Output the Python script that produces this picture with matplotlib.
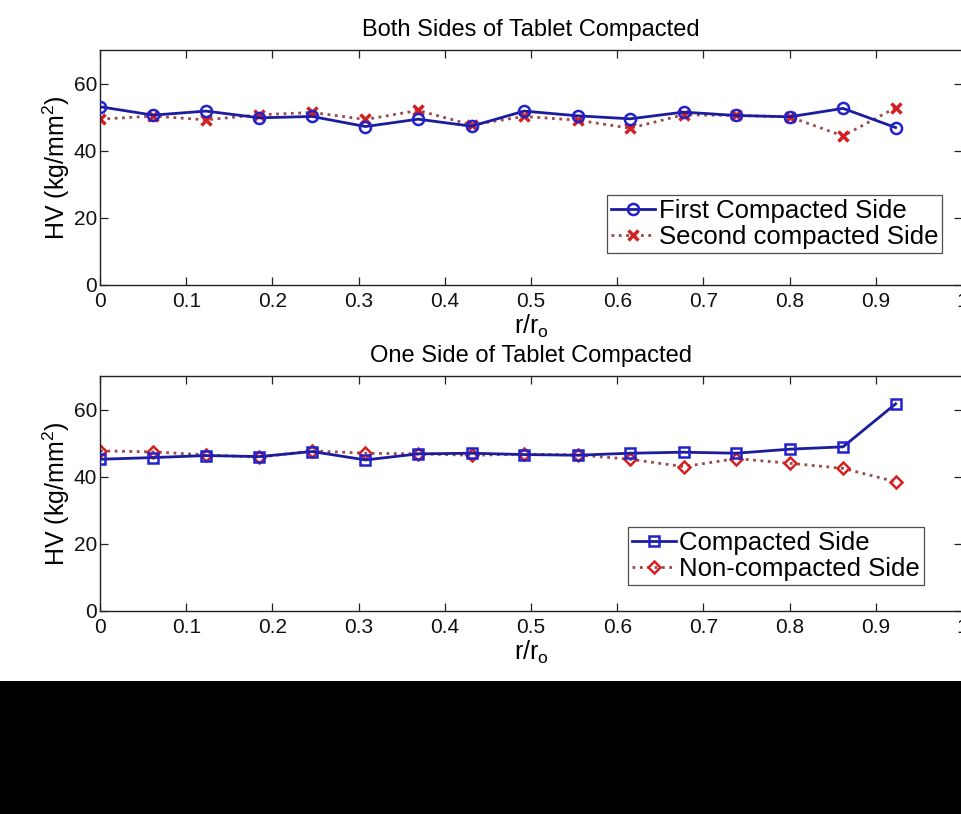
import matplotlib
matplotlib.use("Agg")
import matplotlib.pyplot as plt
from matplotlib.patches import Rectangle

plt.rcParams['font.family'] = ['Liberation Sans', 'DejaVu Sans']
plt.rcParams['mathtext.fontset'] = 'custom'
plt.rcParams['mathtext.rm'] = 'Liberation Sans'
plt.rcParams['mathtext.it'] = 'Liberation Sans'

# Data
r_ro = [0.0, 0.0615, 0.123, 0.185, 0.246, 0.308, 0.369, 0.431,
        0.492, 0.554, 0.615, 0.677, 0.738, 0.800, 0.862, 0.923]
first_side = [53.1, 50.6, 51.8, 49.8, 50.2, 47.2, 49.4, 47.3,
              51.8, 50.4, 49.5, 51.5, 50.5, 50.1, 52.6, 46.9]
second_side = [49.4, 50.3, 49.2, 50.7, 51.4, 49.3, 52.0, 47.7,
               50.2, 49.1, 46.7, 50.7, 50.5, 50.1, 44.4, 52.8]
compacted = [45.2, 45.7, 46.3, 46.0, 47.5, 45.0, 46.8, 47.0,
             46.6, 46.4, 47.0, 47.3, 47.0, 48.2, 48.9, 61.7]
non_compacted = [47.7, 47.4, 46.5, 45.8, 47.7, 47.0, 46.8, 46.4,
                 46.7, 46.5, 45.2, 43.0, 45.4, 44.0, 42.5, 38.5]
xticks = [0, 0.1, 0.2, 0.3, 0.4, 0.5, 0.6, 0.7, 0.8, 0.9, 1]
xticklabels = ['0', '0.1', '0.2', '0.3', '0.4', '0.5', '0.6', '0.7', '0.8', '0.9', '1']
yticks = [0, 20, 40, 60]

W, H = 961, 814
fig = plt.figure(figsize=(W / 100, H / 100), dpi=100)

def px_axes(left, top, right, bottom):
    return fig.add_axes([left / W, 1 - bottom / H, (right - left) / W, (bottom - top) / H])

ax1 = px_axes(100, 50, 962, 285)
ax2 = px_axes(100, 376, 962, 611)

line_blue = '#1c1c9e'
mk_blue = '#2222cc'
dot_red = '#9a4a4a'
mk_red = '#d42020'

ax1.plot(r_ro, first_side, '-', color=line_blue, lw=2.0, marker='o', ms=8,
         mfc='none', mec=mk_blue, mew=1.8, label='First Compacted Side', zorder=3)
ax1.plot(r_ro, second_side, ':', color=dot_red, lw=2.0, marker='x', ms=6.5,
         mec=mk_red, mew=2.5, label='Second compacted Side', zorder=2)

ax2.plot(r_ro, compacted, '-', color=line_blue, lw=2.0, marker='s', ms=7.5,
         mfc='none', mec=mk_blue, mew=1.8, label='Compacted Side', zorder=3)
ax2.plot(r_ro, non_compacted, ':', color=dot_red, lw=2.0, marker='D', ms=6.5,
         mfc='none', mec=mk_red, mew=1.8, label='Non-compacted Side', zorder=2)

titles = ['Both Sides of Tablet Compacted', 'One Side of Tablet Compacted']
for ax, title in zip([ax1, ax2], titles):
    ax.set_xlim(0, 1)
    ax.set_ylim(0, 70)
    ax.set_xticks(xticks)
    ax.set_xticklabels(xticklabels)
    ax.set_yticks(yticks)
    ax.tick_params(direction='in', length=6, width=0.9, top=True, right=True,
                   labelsize=15, pad=2, colors='#222222', labelcolor='#111111')
    ax.tick_params(axis='x', pad=5)
    for s in ax.spines.values():
        s.set_linewidth(1.0)
        s.set_color('#222222')
    ax.set_ylabel('HV (kg/mm$^2$)', fontsize=18, labelpad=1)
    ax.set_xlabel('r/r$_\\mathregular{o}$', fontsize=18, labelpad=1)
    ax.set_title(title, fontsize=17, pad=10)

leg1 = ax1.legend(loc='lower right', bbox_to_anchor=((942 - 100) / 862, (285 - 253) / 235),
                  fontsize=18.5, frameon=True, fancybox=False, edgecolor='#222222',
                  borderpad=0.15, handlelength=1.7, handletextpad=0.15, labelspacing=0.1,
                  borderaxespad=0)
leg1.get_frame().set_linewidth(0.9)
leg2 = ax2.legend(loc='lower right', bbox_to_anchor=((924 - 100) / 862, (611 - 585) / 235),
                  fontsize=18.5, frameon=True, fancybox=False, edgecolor='#222222',
                  borderpad=0.15, handlelength=1.7, handletextpad=0.15, labelspacing=0.1,
                  borderaxespad=0)
leg2.get_frame().set_linewidth(0.9)

fig.patches.append(Rectangle((0, 0), 1, (H - 681) / H, transform=fig.transFigure,
                             facecolor='black', edgecolor='none', zorder=10))

fig.savefig('out.png', dpi=100)
